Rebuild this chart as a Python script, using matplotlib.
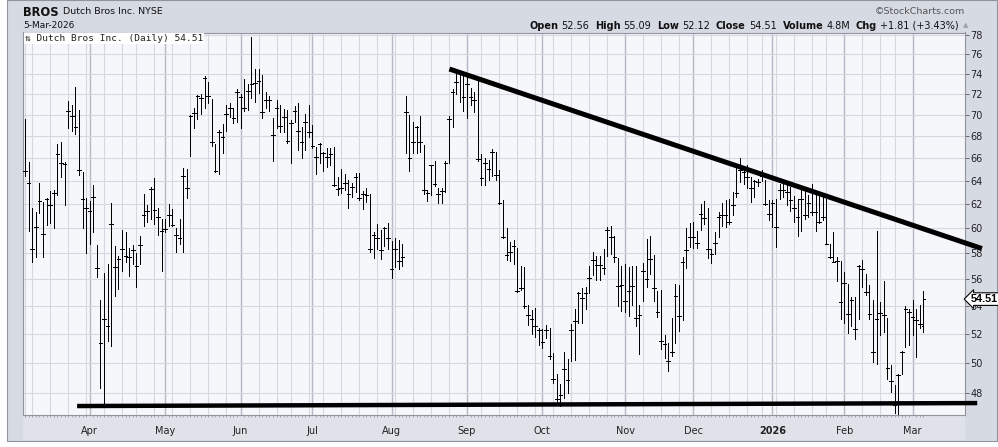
import numpy as np
import pandas as pd
import matplotlib
matplotlib.use("Agg")
import matplotlib.pyplot as plt
from matplotlib.patches import Rectangle
from matplotlib.ticker import FixedLocator, FixedFormatter, NullLocator

# ---- daily OHLC, BROS, 6-Mar-2025 .. 5-Mar-2026 ----
highs = [69.63, 65.61, 61.69, 61.35, 63.81, 62.19, 62.53, 63.11, 63.17, 67.24,
         67.48, 65.67, 71.27, 70.89, 72.65, 70.41, 64.76, 62.53, 62.25, 63.67,
         58.65, 54.46, 56.50, 57.18, 62.14, 58.59, 57.80, 59.86, 59.73, 58.46,
         58.65, 58.00, 59.35, 62.83, 61.92, 63.44, 64.24, 61.72, 60.79, 60.79,
         62.00, 61.63, 60.03, 60.79, 65.12, 65.06, 70.00, 70.67, 71.90, 72.00,
         73.77, 73.13, 71.52, 67.24, 68.55, 69.11, 70.95, 71.14, 70.67, 72.48,
         72.00, 73.45, 72.97, 77.83, 74.52, 74.52, 73.84, 72.23, 71.78, 69.69,
         71.37, 70.95, 70.51, 70.41, 69.48, 70.83, 71.14, 68.80, 70.10, 70.95,
         69.02, 67.03, 67.33, 66.52, 66.94, 66.94, 66.97, 64.30, 65.06, 64.61,
         64.06, 63.81, 64.67, 64.67, 63.08, 63.36, 62.83, 59.73, 60.37, 59.86,
         60.14, 60.45, 58.95, 59.19, 59.08, 58.73, 71.84, 70.00, 69.32, 68.92,
         69.88, 67.18, 63.22, 65.42, 65.73, 63.39, 63.36, 65.73, 69.88, 72.48,
         74.52, 74.28, 73.94, 73.77, 72.55, 72.16, 73.52, 66.33, 66.03, 65.82,
         66.79, 66.52, 64.97, 62.39, 60.00, 58.92, 59.05, 58.46, 56.98, 56.93,
         54.05, 53.69, 53.88, 52.43, 52.31, 52.60, 52.39, 50.64, 49.22, 48.56,
         50.76, 50.28, 52.67, 53.81, 55.03, 55.33, 55.41, 57.00, 58.14, 57.80,
         57.80, 58.32, 60.08, 60.17, 59.41, 57.60, 57.00, 57.18, 56.93, 57.00,
         57.00, 54.05, 57.23, 59.14, 59.35, 57.85, 55.10, 55.21, 51.95, 51.38,
         53.16, 55.67, 55.54, 57.68, 60.00, 60.45, 60.51, 59.81, 62.00, 62.25,
         61.72, 58.32, 59.68, 61.35, 62.14, 62.39, 62.42, 63.03, 65.36, 65.97,
         65.21, 65.36, 64.30, 64.09, 64.15, 64.91, 64.06, 62.33, 62.33, 62.47,
         63.72, 63.78, 63.72, 63.50, 62.67, 62.47, 63.31, 63.08, 62.81, 63.72,
         63.11, 62.75, 62.75, 62.47, 58.73, 59.68, 57.73, 57.43, 56.55, 55.67,
         54.69, 54.64, 57.10, 57.48, 56.43, 55.54, 54.46, 59.81, 54.26, 55.87,
         53.16, 49.82, 48.49, 49.22, 50.80, 54.00, 53.81, 54.46, 53.76, 54.05, 55.09]

lows = [64.45, 59.81, 57.30, 57.73, 61.27, 57.73, 60.28, 60.42, 60.03, 62.81,
        64.30, 61.92, 68.77, 68.46, 68.18, 64.52, 60.03, 58.05, 58.78, 59.68,
        56.18, 48.33, 47.24, 51.49, 51.15, 54.77, 55.28, 56.63, 57.30, 56.23,
        57.18, 55.41, 57.18, 60.23, 60.51, 60.73, 60.37, 59.49, 56.63, 59.68,
        60.23, 60.23, 58.14, 58.73, 58.14, 62.53, 66.18, 68.77, 69.63, 70.03,
        70.63, 71.14, 67.12, 64.76, 64.55, 66.42, 68.49, 69.78, 69.23, 69.32,
        68.71, 70.32, 70.48, 71.62, 71.21, 72.10, 69.69, 70.63, 70.32, 65.73,
        68.77, 68.40, 68.40, 67.39, 65.52, 69.32, 66.73, 65.97, 66.73, 67.88,
        66.94, 64.55, 65.52, 64.82, 65.21, 65.42, 63.58, 62.75, 62.97, 63.17,
        61.72, 62.61, 63.03, 62.39, 61.63, 62.19, 58.14, 57.60, 58.32, 57.55,
        58.59, 58.32, 56.13, 56.93, 56.80, 57.05, 66.42, 64.82, 66.42, 66.42,
        66.52, 62.83, 62.25, 62.81, 63.58, 62.11, 62.11, 63.03, 65.52, 68.80,
        72.00, 71.21, 70.32, 69.72, 70.95, 70.25, 65.73, 63.64, 63.64, 64.06,
        64.45, 64.06, 62.00, 59.19, 57.48, 57.38, 57.18, 55.03, 55.21, 53.88,
        52.60, 52.02, 51.77, 51.20, 51.03, 51.72, 50.23, 48.67, 47.35, 47.13,
        47.67, 48.00, 50.11, 50.16, 52.80, 52.80, 53.76, 54.95, 56.35, 55.97,
        55.92, 56.43, 57.80, 57.93, 57.30, 54.00, 53.64, 53.57, 53.28, 54.05,
        52.55, 50.62, 54.38, 55.41, 56.43, 54.38, 53.23, 50.97, 50.34, 49.44,
        50.46, 51.38, 52.19, 52.96, 56.88, 58.51, 58.41, 58.46, 59.86, 60.37,
        57.63, 57.23, 57.98, 59.27, 60.23, 60.14, 60.37, 61.07, 62.61, 63.92,
        63.72, 63.36, 62.19, 62.61, 63.58, 64.00, 61.92, 60.70, 60.14, 58.51,
        62.47, 62.61, 61.97, 61.41, 60.51, 59.41, 59.76, 60.73, 60.93, 61.13,
        59.76, 60.42, 60.65, 58.73, 57.60, 57.30, 55.87, 53.08, 52.80, 52.07,
        52.55, 51.66, 53.08, 55.41, 54.82, 53.08, 50.07, 49.89, 51.95, 52.14,
        48.89, 48.04, 46.70, 46.60, 49.27, 51.10, 51.20, 51.95, 50.39, 52.39, 52.12]

closes = [64.82, 63.83, 58.32, 60.08, 62.28, 59.54, 62.47, 61.97, 62.97, 66.33,
          65.52, 65.45, 70.38, 69.88, 68.80, 64.91, 62.47, 61.72, 61.41, 62.61,
          56.85, 51.33, 53.04, 52.55, 60.37, 56.93, 57.55, 58.32, 57.80, 57.68,
          58.24, 57.00, 58.65, 61.13, 61.44, 63.31, 61.55, 60.93, 59.81, 59.95,
          61.07, 60.31, 59.49, 59.19, 64.39, 63.36, 69.85, 70.16, 71.84, 71.59,
          73.61, 71.84, 67.48, 64.85, 68.40, 67.88, 70.03, 70.63, 69.69, 72.23,
          71.68, 70.63, 72.26, 72.97, 73.06, 73.29, 70.25, 71.43, 71.37, 68.09,
          70.63, 68.95, 69.78, 67.55, 69.23, 70.35, 68.49, 67.48, 69.32, 68.34,
          67.12, 66.06, 67.24, 66.48, 66.06, 66.33, 63.64, 63.31, 63.36, 63.78,
          62.89, 63.44, 64.30, 62.53, 62.83, 62.81, 58.38, 59.49, 59.19, 58.24,
          60.03, 59.19, 56.75, 58.38, 57.38, 57.68, 70.25, 66.03, 67.48, 68.80,
          67.48, 63.17, 62.94, 65.36, 63.72, 62.89, 63.11, 65.52, 69.63, 72.23,
          73.13, 74.21, 71.75, 72.97, 71.68, 71.43, 65.91, 64.21, 65.58, 65.06,
          66.52, 64.52, 62.14, 59.27, 57.88, 58.11, 58.59, 55.15, 55.33, 54.00,
          53.33, 53.04, 52.55, 52.27, 51.43, 52.24, 50.46, 48.93, 47.57, 47.89,
          49.56, 48.84, 52.24, 52.92, 54.95, 54.56, 54.95, 56.13, 57.48, 57.10,
          57.10, 56.88, 59.86, 59.27, 57.73, 55.49, 55.54, 54.38, 55.10, 55.49,
          53.16, 53.35, 56.63, 56.00, 57.55, 55.33, 53.57, 51.49, 51.26, 50.11,
          50.74, 54.77, 53.28, 57.30, 58.24, 59.27, 59.27, 58.86, 61.15, 60.85,
          58.38, 57.98, 58.86, 60.93, 61.07, 61.07, 60.51, 61.92, 62.94, 64.91,
          64.76, 64.30, 63.39, 64.00, 63.92, 64.45, 62.00, 61.21, 62.14, 60.08,
          63.22, 63.22, 63.03, 62.33, 61.69, 60.93, 62.47, 61.07, 62.11, 61.35,
          61.35, 60.56, 60.93, 58.78, 57.73, 57.35, 57.38, 54.33, 55.72, 53.40,
          54.44, 52.36, 57.00, 56.80, 55.03, 53.45, 50.76, 53.08, 53.52, 53.33,
          49.67, 48.78, 47.24, 49.16, 50.76, 53.81, 53.57, 53.20, 52.96, 52.70, 54.51]

opens = [64.82, 63.83, 58.32, 60.08, 62.28, 59.54, 62.47, 61.97, 62.97, 66.33,
         65.52, 65.45, 70.38, 69.88, 68.80, 64.91, 62.47, 61.72, 61.41, 62.61,
         56.85, 51.33, 53.04, 52.55, 60.37, 56.93, 57.55, 58.32, 57.80, 57.68,
         58.24, 57.00, 58.65, 61.13, 61.44, 63.31, 61.55, 60.93, 59.81, 59.95,
         61.07, 60.31, 59.49, 59.19, 64.39, 63.36, 69.85, 70.16, 71.84, 71.59,
         73.61, 71.84, 67.48, 64.85, 68.40, 67.88, 70.03, 70.63, 69.69, 72.23,
         71.68, 70.63, 72.26, 72.97, 73.06, 73.29, 70.25, 71.43, 71.37, 68.09,
         70.63, 68.95, 69.78, 67.55, 69.23, 70.35, 68.49, 67.48, 69.32, 68.34,
         67.12, 66.06, 67.24, 66.48, 66.06, 66.33, 63.64, 63.31, 63.36, 63.78,
         62.89, 63.44, 64.30, 62.53, 62.83, 62.81, 58.38, 59.49, 59.19, 58.24,
         60.03, 59.19, 56.75, 58.38, 57.38, 57.68, 70.25, 66.03, 67.48, 68.80,
         67.48, 63.17, 62.94, 65.36, 63.72, 62.89, 63.11, 65.52, 69.63, 72.23,
         73.13, 74.21, 71.75, 72.97, 71.68, 71.43, 65.91, 64.21, 65.58, 65.06,
         66.52, 64.52, 62.14, 59.27, 57.88, 58.11, 58.59, 55.15, 55.33, 54.00,
         53.33, 53.04, 52.55, 52.27, 51.43, 52.24, 50.46, 48.93, 47.57, 47.89,
         49.56, 48.84, 52.24, 52.92, 54.95, 54.56, 54.95, 56.13, 57.48, 57.10,
         57.10, 56.88, 59.86, 59.27, 57.73, 55.49, 55.54, 54.38, 55.10, 55.49,
         53.16, 53.35, 56.63, 56.00, 57.55, 55.33, 53.57, 51.49, 51.26, 50.11,
         50.74, 54.77, 53.28, 57.30, 58.24, 59.27, 59.27, 58.86, 61.15, 60.85,
         58.38, 57.98, 58.86, 60.93, 61.07, 61.07, 60.51, 61.92, 62.94, 64.91,
         64.76, 64.30, 63.39, 64.00, 63.92, 64.45, 62.00, 61.21, 62.14, 60.08,
         63.22, 63.22, 63.03, 62.33, 61.69, 60.93, 62.47, 61.07, 62.11, 61.35,
         61.35, 60.56, 60.93, 58.78, 57.73, 57.35, 57.38, 54.33, 55.72, 53.40,
         54.44, 52.36, 57.00, 56.80, 55.03, 53.45, 50.76, 53.08, 53.52, 53.33,
         49.67, 48.78, 47.24, 49.16, 50.76, 53.81, 53.57, 53.20, 52.96, 52.70, 52.56]

holidays = ["2025-04-18", "2025-05-26", "2025-06-19", "2025-07-04", "2025-09-01",
            "2025-11-27", "2025-12-25", "2026-01-01", "2026-01-19", "2026-02-16"]

# hand-drawn trend lines (bar index, price)
resist_x = [118.1, 266.3]
resist_y = [74.48, 58.38]
support_x = [14.5, 265.0]
support_y = [47.15, 47.34]

price_ticks = list(range(48, 80, 2))

# ---------------------------------------------------------------------------
W, H = 998, 447
fig = plt.figure(figsize=(W / 100, H / 100), dpi=100)
fig.patch.set_facecolor("white")

panel = "#d6dae3"
fig.add_artist(Rectangle((7 / W, 1 - 441 / H), 990 / W, 441 / H, transform=fig.transFigure,
                         facecolor=panel, edgecolor="#8f949e", lw=0.8, zorder=-3))
# x-axis label strip
fig.add_artist(Rectangle((23 / W, 1 - 440 / H), 942 / W, 25 / H, transform=fig.transFigure,
                         facecolor="#dfe2e9", edgecolor="none", zorder=-2))

ax = fig.add_axes([23 / W, 1 - 415 / H, 942 / W, (415 - 32.5) / H])
ax.set_facecolor("#f6f7fb")
for s in ax.spines.values():
    s.set_color("#8f949e")
    s.set_linewidth(0.8)

days = pd.bdate_range("2025-03-06", "2026-03-05")
days = days[~days.isin(pd.to_datetime(holidays))]
idx = np.arange(len(days))

# grid: weekly (light) and monthly (darker) verticals
wk = days.isocalendar().week.values
week_start = [i for i in idx if i == 0 or wk[i] != wk[i - 1]]
month_start = [i for i in idx if i > 0 and days[i].month != days[i - 1].month]
for i in week_start:
    ax.axvline(i, color="#d5d8e1", lw=0.8, zorder=0)
for i in month_start:
    ax.axvline(i, color="#b4b9c5", lw=1.0, zorder=0)
for p in price_ticks:
    ax.axhline(p, color="#d5d8e1", lw=0.8, zorder=0)

# OHLC bars
ax.vlines(idx, lows, highs, color="black", lw=0.72, antialiased=False, zorder=3)
ax.hlines(opens, idx - 0.5, idx, color="black", lw=0.72, antialiased=False, zorder=3)
ax.hlines(closes, idx, idx + 0.5, color="black", lw=0.72, antialiased=False, zorder=3)

# trend lines
ax.plot(resist_x, resist_y, color="black", lw=3.6, solid_capstyle="butt", clip_on=False, zorder=4)
ax.plot(support_x, support_y, color="black", lw=3.2, solid_capstyle="butt", clip_on=False, zorder=4)

ax.set_yscale("log")
ax.set_ylim(46.58, 78.26)
ax.set_xlim(-0.56, 261.6)

ax.yaxis.tick_right()
ax.yaxis.set_major_locator(FixedLocator(price_ticks))
ax.yaxis.set_major_formatter(FixedFormatter([str(p) for p in price_ticks]))
ax.yaxis.set_minor_locator(NullLocator())
ax.tick_params(axis="y", which="major", length=3, width=0.6, color="#555555",
               pad=1, labelsize=7, labelcolor="#222222")

mlabels = ["2026" if days[i].month == 1 else days[i].strftime("%b") for i in month_start]
ax.set_xticks(month_start)
ax.set_xticklabels(mlabels)
for t in ax.get_xticklabels():
    if t.get_text() == "2026":
        t.set_fontweight("bold")
ax.xaxis.set_minor_locator(FixedLocator(idx))
ax.tick_params(axis="x", which="major", length=0, pad=8, labelsize=7, labelcolor="#222222")
ax.tick_params(axis="x", which="minor", length=1.5, width=0.5, color="#8a8f99")

# last price tag
ax.annotate("54.51", xy=(1.0, closes[-1]), xycoords=("axes fraction", "data"),
            xytext=(4.2, 0), textcoords="offset points", ha="left", va="center",
            fontsize=7.8, fontweight="bold", family="Liberation Sans", annotation_clip=False,
            bbox=dict(boxstyle="larrow,pad=0.12", fc="white", ec="black", lw=0.8), zorder=10)

# legend-like caption inside plot
ax.text(0.002, 0.997, "\u21c5 Dutch Bros Inc. (Daily) 54.51", transform=ax.transAxes,
        ha="left", va="top", fontsize=6.8, family="DejaVu Sans Mono", color="#222222",
        bbox=dict(boxstyle="square,pad=0.1", fc="white", ec="none"), zorder=5)

# header
def fx(px):
    return px / W

def fy(py):
    return 1 - py / H

fig.text(fx(23), fy(12), "BROS", fontsize=8.3, fontweight="bold", va="center", color="#111111")
fig.text(fx(63), fy(12), "Dutch Bros Inc. NYSE", fontsize=6.8, va="center", color="#111111")
fig.text(fx(23), fy(25), "5-Mar-2026", fontsize=6.5, va="center", color="#111111")
fig.text(fx(965), fy(12), "\u00a9StockCharts.com", fontsize=6.8, va="center", ha="right", color="#555555")

renderer = fig.canvas.get_renderer()
parts = [("Open", "52.56"), ("High", "55.09"), ("Low", "52.12"), ("Close", "54.51"),
         ("Volume", "4.8M"), ("Chg", "+1.81 (+3.43%)")]
x = 529
for lab, val in parts:
    t = fig.text(fx(x), fy(26), lab, fontsize=7, fontweight="bold", va="center", color="#111111")
    x += t.get_window_extent(renderer).width + 3
    t = fig.text(fx(x), fy(26), val, fontsize=7, va="center", color="#111111")
    x += t.get_window_extent(renderer).width + 6
fig.text(fx(x - 2), fy(25), "\u25b2", fontsize=5, va="center", color="#9aa1ab")

fig.savefig("out.png", dpi=100, facecolor=fig.get_facecolor())
